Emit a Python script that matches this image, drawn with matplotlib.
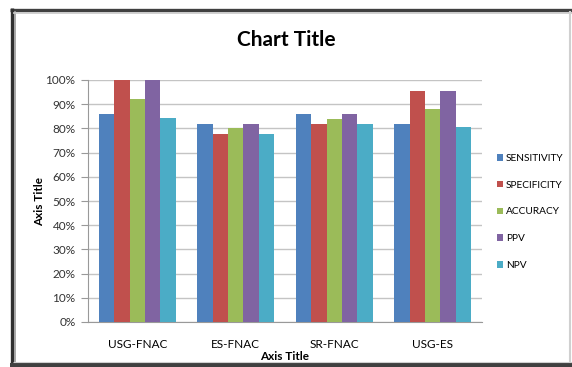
import matplotlib
matplotlib.use("Agg")
import matplotlib.pyplot as plt
import numpy as np
from matplotlib.lines import Line2D
from matplotlib.ticker import PercentFormatter

categories = ["USG-FNAC", "ES-FNAC", "SR-FNAC", "USG-ES"]
series_names = ["SENSITIVITY", "SPECIFICITY", "ACCURACY", "PPV", "NPV"]
sensitivity = [86, 82, 86, 82]
specificity = [100, 77.5, 82, 95.3]
accuracy = [92, 80, 84, 88]
ppv = [100, 82, 86, 95.6]
npv = [84.5, 77.5, 82, 80.5]
series = [sensitivity, specificity, accuracy, ppv, npv]
colors = ["#4F81BD", "#C0504D", "#9BBB59", "#8064A2", "#4BACC6"]

plt.rcParams['font.family'] = ['Lato', 'DejaVu Sans']

W, H = 572, 367
fig = plt.figure(figsize=(5.72, 3.67), dpi=100)
fig.patch.set_facecolor("white")


def fline(x0, y0, x1, y1, color, lw):
    fig.lines.append(Line2D([x0 / W, x1 / W], [1 - y0 / H, 1 - y1 / H],
                            transform=fig.transFigure, color=color,
                            linewidth=lw, zorder=5, solid_capstyle="butt"))


# chart border (dark on top/left/bottom, image cut at right)
fline(10, 9.5, 572, 9.5, "#404040", 2.4)
fline(11.5, 8, 11.5, 367, "#303030", 2.4)
fline(10, 364.5, 572, 364.5, "#404040", 3.0)
fline(14.5, 11, 14.5, 362, "#9a9a9a", 1.2)
fline(13, 12.5, 572, 12.5, "#c8c8c8", 1.2)
fline(13, 362, 572, 362, "#d0d0d0", 0.8)
fline(570, 11, 570, 363, "#d0d0d0", 1.5)

ax = fig.add_axes([88 / W, 1 - 322 / H, 394 / W, 242 / H])
ax.set_facecolor("white")
x = np.arange(len(categories))
n = len(series)
gw = 0.78
bw = gw / n
for i, (vals, c, name) in enumerate(zip(series, colors, series_names)):
    ax.bar(x - gw / 2 + bw * (i + 0.5), vals, bw, color=c, label=name, zorder=3)

ax.set_xlim(-0.5, len(categories) - 0.5)
ax.set_ylim(0, 100)
ax.set_yticks(np.arange(0, 101, 10))
ax.yaxis.set_major_formatter(PercentFormatter(decimals=0))
ax.set_xticks(x)
ax.set_xticklabels(categories, fontsize=8.5)
ax.tick_params(axis='y', labelsize=8.5, length=5, color="#999999",
               labelcolor="#333333", pad=4)
ax.tick_params(axis='x', length=0, pad=12)
ax.grid(axis='y', color="#c4c4c4", linewidth=1.0, zorder=0)
for s in ["top", "right"]:
    ax.spines[s].set_visible(False)
ax.spines["left"].set_color("#999999")
ax.spines["bottom"].set_color("#999999")
ax.set_xlabel("Axis Title", fontsize=8.5, fontweight="bold", labelpad=1)
ax.set_ylabel("Axis Title", fontsize=8.5, fontweight="bold")
ax.yaxis.set_label_coords(-43 / 394, 0.5)

fig.text(0.5, 1 - 40 / H, "Chart Title", ha="center", va="center",
         fontsize=15, fontweight="bold")

ax.legend(loc="center left", bbox_to_anchor=(1.015, 0.455), frameon=False,
          fontsize=7.3, handlelength=0.6, handleheight=0.6, handletextpad=0.25,
          labelspacing=1.75)

fig.savefig("out.png", dpi=100, facecolor=fig.get_facecolor())
